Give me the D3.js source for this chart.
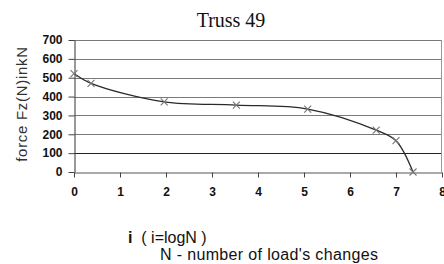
<!DOCTYPE html>
<html>
<head>
<meta charset="utf-8">
<script src="https://cdn.jsdelivr.net/npm/d3@7"></script>
<style>
  body { margin: 0; background: #fff; overflow: hidden; }
  svg { display: block; }
</style>
</head>
<body>
<div id="chart"></div>
<script>
// values
var logN = [0, 0.37, 1.96, 3.53, 5.08, 6.57, 7.0, 7.37];
var force = [522, 470, 372, 355, 334, 222, 166, 0];
var xTicks = [0, 1, 2, 3, 4, 5, 6, 7, 8];
var yTicks = [0, 100, 200, 300, 400, 500, 600, 700];

var width = 444, height = 264;
var margin = { top: 40, right: 2, bottom: 92, left: 74 };
var innerWidth = width - margin.left - margin.right;
var innerHeight = height - margin.top - margin.bottom;

var svg = d3.select('#chart').append('svg')
    .attr('width', width)
    .attr('height', height);

var g = svg.append('g').attr('transform', 'translate(' + margin.left + ',' + margin.top + ')');

var x = d3.scaleLinear().domain([0, 8]).range([0, innerWidth]);
var y = d3.scaleLinear().domain([0, 700]).range([innerHeight, 0]);

// grid lines
g.selectAll('line.grid')
    .data(yTicks.filter(function(d){ return d > 0; }))
    .enter()
    .append('line')
    .attr('class', 'grid')
    .attr('x1', 0).attr('x2', innerWidth)
    .attr('y1', function(d){ return Math.round(y(d)) + 0.5; })
    .attr('y2', function(d){ return Math.round(y(d)) + 0.5; })
    .attr('stroke', function(d){ return d === 100 ? '#222' : '#7a7a7a'; })
    .attr('stroke-width', 1);

// right border
g.append('line')
    .attr('x1', innerWidth - 0.5).attr('x2', innerWidth - 0.5)
    .attr('y1', 0).attr('y2', innerHeight)
    .attr('stroke', '#999');

// axes
var xAxis = g.append('g')
    .attr('transform', 'translate(0,' + (Math.round(innerHeight) + 0.5) + ')')
    .call(d3.axisBottom(x).tickValues(xTicks).tickSize(5).tickSizeOuter(0).tickFormat(d3.format('d')));

var yAxis = g.append('g')
    .attr('transform', 'translate(0.5,0)')
    .call(d3.axisLeft(y).tickValues(yTicks).tickSize(6).tickSizeOuter(0));

[xAxis, yAxis].forEach(function(a){
    a.attr('font-family', 'Liberation Sans, Arial, sans-serif')
        .attr('font-size', 12)
        .attr('font-weight', 'bold');
    a.select('.domain').attr('stroke', '#555').attr('stroke-width', 1.2);
    a.selectAll('.tick line').attr('stroke', '#444');
    a.selectAll('text').attr('fill', '#111');
});
xAxis.selectAll('text').attr('dy', '1.25em');
yAxis.selectAll('text').attr('x', -12);

// smoothed line
var line = d3.line()
    .x(function(d){ return x(d[0]); })
    .y(function(d){ return y(d[1]); })
    .curve(d3.curveCatmullRom.alpha(0.5));

var pts = logN.map(function(v, i){ return [v, force[i]]; });

g.append('path')
    .datum(pts)
    .attr('fill', 'none')
    .attr('stroke', '#2a2a2a')
    .attr('stroke-width', 1.3)
    .attr('d', line);

// x markers
var s = 3.5;
var mk = g.selectAll('g.mk')
    .data(pts)
    .enter()
    .append('g')
    .attr('class', 'mk')
    .attr('transform', function(d){ return 'translate(' + x(d[0]) + ',' + y(d[1]) + ')'; });
mk.append('path')
    .attr('d', 'M' + (-s) + ',' + (-s) + 'L' + s + ',' + s + 'M' + (-s) + ',' + s + 'L' + s + ',' + (-s))
    .attr('stroke', '#777')
    .attr('stroke-width', 1.1)
    .attr('fill', 'none');

// title
svg.append('text')
    .attr('x', 231)
    .attr('y', 27)
    .attr('text-anchor', 'middle')
    .style('font-family', 'Liberation Serif, Times New Roman, serif')
    .style('font-size', '20px')
    .attr('fill', '#111')
    .text('Truss 49');

// y axis title
svg.append('text')
    .attr('transform', 'translate(27,104) rotate(-90)')
    .attr('text-anchor', 'middle')
    .style('font-family', 'Liberation Sans, Arial, sans-serif')
    .style('font-size', '15px')
    .style('letter-spacing', '0.7px')
    .attr('fill', '#333')
    .text('force Fz(N)inkN');

// x axis title
var xt = svg.append('text')
    .attr('x', 128)
    .attr('y', 243)
    .style('font-family', 'Liberation Sans, Arial, sans-serif')
    .style('font-size', '16px')
    .attr('fill', '#111');
xt.append('tspan').style('font-weight', 'bold').text('i');
xt.append('tspan').attr('xml:space', 'preserve').text('  ( i=logN )');

svg.append('text')
    .attr('x', 160)
    .attr('y', 260)
    .style('font-family', 'Liberation Sans, Arial, sans-serif')
    .style('font-size', '16px')
    .style('letter-spacing', '0.35px')
    .attr('fill', '#111')
    .text("N - number of load's changes");
</script>
</body>
</html>
